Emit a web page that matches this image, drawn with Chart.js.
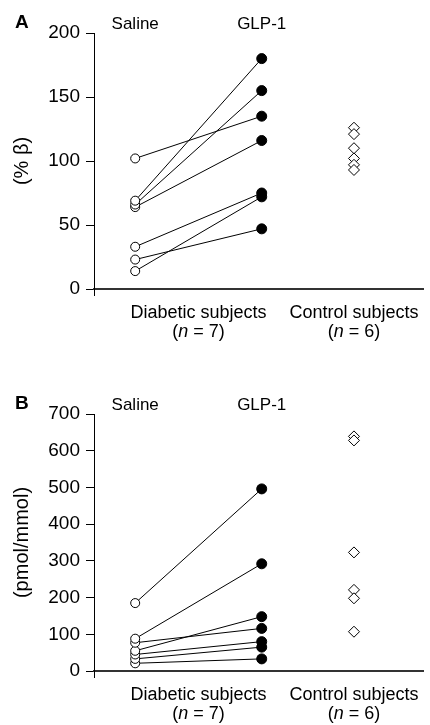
<!DOCTYPE html>
<html>
<head>
<meta charset="utf-8">
<script src="https://cdn.jsdelivr.net/npm/chart.js@4.4.1/dist/chart.umd.min.js"></script>
<style>
    body { margin: 0; background: #fff; }
    canvas { display: block; }
</style>
</head>
<body>
<canvas id="panelA" width="430" height="362"></canvas>
<canvas id="panelB" width="430" height="363"></canvas>
<script>
        // x positions of the three groups on a 0-10 axis
        const groupX = [1.25, 5.09, 7.89];
        const treatments = ['Saline', 'GLP-1'];
        const groups = ['Diabetic subjects', 'Control subjects'];
        const groupN = [7, 6];

        // panel A: % beta
        const salineA = [102, 69, 66, 64, 33, 23, 14];
        const glpA = [135, 180, 155, 116, 75, 47, 72];
        const controlA = [126, 121, 110, 102, 97, 93];
        const yTicksA = [0, 50, 100, 150, 200];

        // panel B: pmol/mmol
        const salineB = [185, 88, 77, 55, 45, 33, 21];
        const glpB = [496, 292, 116, 148, 80, 65, 33];
        const controlB = [639, 628, 323, 221, 198, 107];
        const yTicksB = [0, 100, 200, 300, 400, 500, 600, 700];

        const fontFamily = '"Liberation Sans", Arial, Helvetica, sans-serif';
        const fontStr = (size, style = '') => `${style} ${size}px ${fontFamily}`.trim();

        const drawN = (ctx, cx, y, n) => {
            const parts = [
                ['(', fontStr(18)],
                ['n', fontStr(18, 'italic')],
                [' = ' + n + ')', fontStr(18)]
            ];
            let total = 0;
            parts.forEach(p => { ctx.font = p[1]; total += ctx.measureText(p[0]).width; });
            let x = cx - total / 2;
            ctx.textAlign = 'left';
            parts.forEach(p => {
                ctx.font = p[1];
                ctx.fillText(p[0], x, y);
                x += ctx.measureText(p[0]).width;
            });
        };

        const panelText = {
            id: 'panelText',
            afterDraw(chart, args, opts) {
                const { ctx, chartArea, scales } = chart;
                const xs = groupX.map(v => scales.x.getPixelForValue(v));
                ctx.save();
                ctx.fillStyle = '#000';
                ctx.textBaseline = 'alphabetic';

                ctx.font = fontStr(19, 'bold');
                ctx.textAlign = 'left';
                ctx.fillText(opts.letter, 15, chartArea.top - 5);

                ctx.font = fontStr(17);
                ctx.textAlign = 'center';
                ctx.fillText(treatments[0], xs[0], chartArea.top - 4);
                ctx.fillText(treatments[1], xs[1], chartArea.top - 4);

                const centers = [(xs[0] + xs[1]) / 2, xs[2]];
                centers.forEach((cx, i) => {
                    ctx.font = fontStr(18);
                    ctx.textAlign = 'center';
                    ctx.fillText(groups[i], cx, chartArea.bottom + 29);
                    drawN(ctx, cx, chartArea.bottom + 48, groupN[i]);
                });
                ctx.restore();
            }
        };

        const subjectSets = (saline, glp) => saline.map((s, i) => ({
            data: [{ x: groupX[0], y: s }, { x: groupX[1], y: glp[i] }],
            showLine: true,
            borderColor: '#000',
            borderWidth: 1,
            pointBackgroundColor: ['#fff', '#000'],
            pointBorderColor: '#000',
            pointBorderWidth: 1,
            pointRadius: [4.5, 5],
            pointHoverRadius: [4.5, 5]
        }));

        const controlSet = (values) => ({
            data: values.map(v => ({ x: groupX[2], y: v })),
            showLine: false,
            pointStyle: 'rectRot',
            pointRadius: 5.5,
            pointHoverRadius: 5.5,
            pointBackgroundColor: '#fff',
            pointBorderColor: '#000',
            pointBorderWidth: 1
        });

        const makePanel = (id, letter, saline, glp, control, yTicks, title, padTop, xHeight) => {
            new Chart(document.getElementById(id), {
                type: 'scatter',
                data: { datasets: [...subjectSets(saline, glp), controlSet(control)] },
                plugins: [panelText],
                options: {
                    responsive: false,
                    animation: false,
                    events: [],
                    layout: { padding: { top: padTop, left: 0, right: 0, bottom: 0 } },
                    plugins: {
                        legend: { display: false },
                        tooltip: { enabled: false },
                        panelText: { letter: letter }
                    },
                    scales: {
                        x: {
                            type: 'linear',
                            min: 0,
                            max: 10,
                            afterBuildTicks: (axis) => { axis.ticks = [{ value: 0 }]; },
                            afterFit: (axis) => { axis.height = xHeight; },
                            ticks: { callback: () => '' },
                            grid: { drawOnChartArea: false, tickLength: 7, color: '#000' },
                            border: { color: '#333', width: 2 }
                        },
                        y: {
                            min: yTicks[0],
                            max: yTicks[yTicks.length - 1],
                            afterBuildTicks: (axis) => { axis.ticks = yTicks.map(v => ({ value: v })); },
                            afterFit: (axis) => { axis.width = 94; },
                            ticks: { color: '#000', padding: 6, font: { family: fontFamily, size: 19 } },
                            grid: { drawOnChartArea: false, tickLength: 8, color: '#000' },
                            border: { color: '#000', width: 1 },
                            title: {
                                display: true,
                                text: title,
                                color: '#000',
                                padding: { top: 10, bottom: 0 },
                                font: { family: fontFamily, size: 20 }
                            }
                        }
                    }
                }
            });
        };

        makePanel('panelA', 'A', salineA, glpA, controlA, yTicksA, '(% \u03B2)', 33, 73);
        makePanel('panelB', 'B', salineB, glpB, controlB, yTicksB, '(pmol/mmol)', 52, 54);
</script>
</body>
</html>
